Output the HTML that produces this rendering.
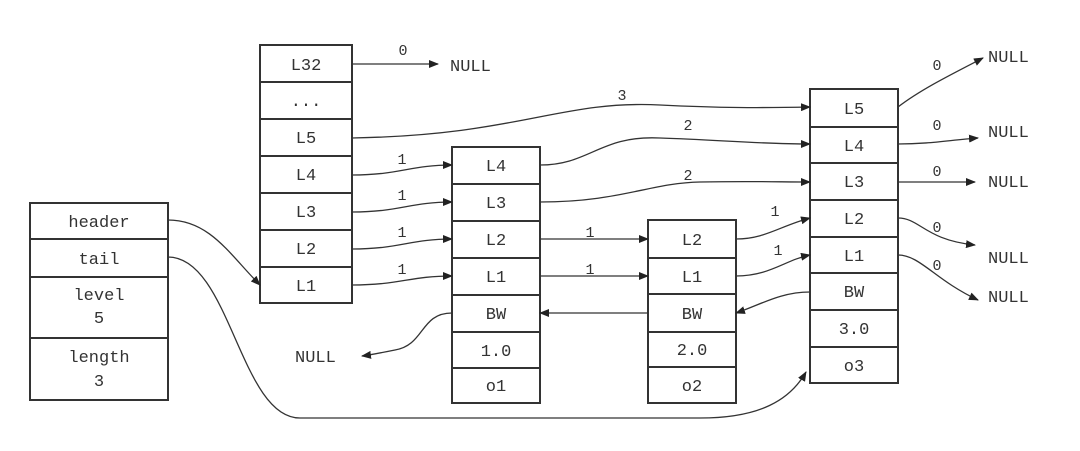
<!DOCTYPE html>
<html><head><meta charset="utf-8"><style>
body{margin:0;background:#fff;}
svg text{font-family:"Liberation Mono",monospace;fill:#333;}
</style></head><body>
<svg width="1080" height="446" viewBox="0 0 1080 446" xmlns="http://www.w3.org/2000/svg">
<defs><marker id="a" markerWidth="10" markerHeight="8" refX="9" refY="4" orient="auto" markerUnits="userSpaceOnUse"><path d="M0,0 L10,4 L0,8 z" fill="#222"/></marker></defs>
<g fill="#fff" stroke="#333" stroke-width="2">
<rect x="30" y="203" width="138" height="197"/>
<line x1="30" y1="239" x2="168" y2="239"/><line x1="30" y1="277" x2="168" y2="277"/><line x1="30" y1="338" x2="168" y2="338"/>
<rect x="260" y="45" width="92" height="258"/>
<line x1="260" y1="82" x2="352" y2="82"/><line x1="260" y1="119" x2="352" y2="119"/><line x1="260" y1="156" x2="352" y2="156"/><line x1="260" y1="193" x2="352" y2="193"/><line x1="260" y1="230" x2="352" y2="230"/><line x1="260" y1="267" x2="352" y2="267"/>
<rect x="452" y="147" width="88" height="256"/>
<line x1="452" y1="184" x2="540" y2="184"/><line x1="452" y1="221" x2="540" y2="221"/><line x1="452" y1="258" x2="540" y2="258"/><line x1="452" y1="295" x2="540" y2="295"/><line x1="452" y1="332" x2="540" y2="332"/><line x1="452" y1="368" x2="540" y2="368"/>
<rect x="648" y="220" width="88" height="183"/>
<line x1="648" y1="258" x2="736" y2="258"/><line x1="648" y1="294" x2="736" y2="294"/><line x1="648" y1="332" x2="736" y2="332"/><line x1="648" y1="367" x2="736" y2="367"/>
<rect x="810" y="89" width="88" height="294"/>
<line x1="810" y1="127" x2="898" y2="127"/><line x1="810" y1="163" x2="898" y2="163"/><line x1="810" y1="200" x2="898" y2="200"/><line x1="810" y1="237" x2="898" y2="237"/><line x1="810" y1="273" x2="898" y2="273"/><line x1="810" y1="310" x2="898" y2="310"/><line x1="810" y1="347" x2="898" y2="347"/>
</g>
<g font-size="17" text-anchor="middle">
<text x="99" y="227">header</text><text x="99" y="264">tail</text><text x="99" y="300">level</text><text x="99" y="323">5</text><text x="99" y="362">length</text><text x="99" y="386">3</text>
<text x="306" y="70">L32</text><text x="306" y="106">...</text><text x="306" y="143">L5</text><text x="306" y="180">L4</text><text x="306" y="217">L3</text><text x="306" y="254">L2</text><text x="306" y="291">L1</text>
<text x="496" y="171">L4</text><text x="496" y="208">L3</text><text x="496" y="245">L2</text><text x="496" y="282">L1</text><text x="496" y="319">BW</text><text x="496" y="356">1.0</text><text x="496" y="391">o1</text>
<text x="692" y="245">L2</text><text x="692" y="282">L1</text><text x="692" y="319">BW</text><text x="692" y="355">2.0</text><text x="692" y="391">o2</text>
<text x="854" y="114">L5</text><text x="854" y="151">L4</text><text x="854" y="187">L3</text><text x="854" y="224">L2</text><text x="854" y="261">L1</text><text x="854" y="297">BW</text><text x="854" y="334">3.0</text><text x="854" y="371">o3</text>
</g>
<g font-size="17">
<text x="450" y="71">NULL</text><text x="295" y="362">NULL</text>
<text x="988" y="62">NULL</text><text x="988" y="137">NULL</text><text x="988" y="187">NULL</text><text x="988" y="263">NULL</text><text x="988" y="302">NULL</text>
</g>
<g font-size="15" text-anchor="middle">
<text x="403" y="55">0</text><text x="622" y="100">3</text>
<text x="402" y="164">1</text><text x="402" y="200">1</text><text x="402" y="237">1</text><text x="402" y="274">1</text>
<text x="688" y="130">2</text><text x="688" y="180">2</text>
<text x="590" y="237">1</text><text x="590" y="274">1</text>
<text x="775" y="216">1</text><text x="778" y="255">1</text>
<text x="937" y="70">0</text><text x="937" y="130">0</text><text x="937" y="176">0</text><text x="937" y="232">0</text><text x="937" y="270">0</text>
</g>
<g fill="none" stroke="#333" stroke-width="1.3" marker-end="url(#a)">
<path d="M352,64 L438,64"/>
<path d="M352,138 C520,135 560,100 660,105 C720,108 760,108 810,107"/>
<path d="M352,175 C400,175 410,165 452,165"/>
<path d="M352,212 C400,212 410,202 452,202"/>
<path d="M352,249 C400,249 410,239 452,239"/>
<path d="M352,285 C400,285 410,276 452,276"/>
<path d="M540,165 C590,165 600,135 660,138 C720,140 760,144 810,144"/>
<path d="M540,202 C620,202 650,183 700,182 C750,181 780,182 810,182"/>
<path d="M540,239 L648,239"/><path d="M540,276 L648,276"/>
<path d="M736,239 C765,239 780,226 810,218"/>
<path d="M736,276 C770,276 785,260 810,255"/>
<path d="M810,292 C780,292 760,305 736,313"/>
<path d="M648,313 L540,313"/>
<path d="M452,313 C420,313 425,345 395,350 C380,353 370,355 362,356"/>
<path d="M898,107 C920,90 950,75 983,58"/>
<path d="M898,144 C930,144 950,140 978,138"/>
<path d="M898,182 L975,182"/>
<path d="M898,218 C920,218 925,240 975,245"/>
<path d="M898,255 C920,255 935,280 978,300"/>
<path d="M168,220 C210,220 230,255 260,285"/>
<path d="M168,257 C230,257 240,418 300,418 L700,418 C760,418 790,400 806,372"/>
</g>
</svg>
</body></html>
